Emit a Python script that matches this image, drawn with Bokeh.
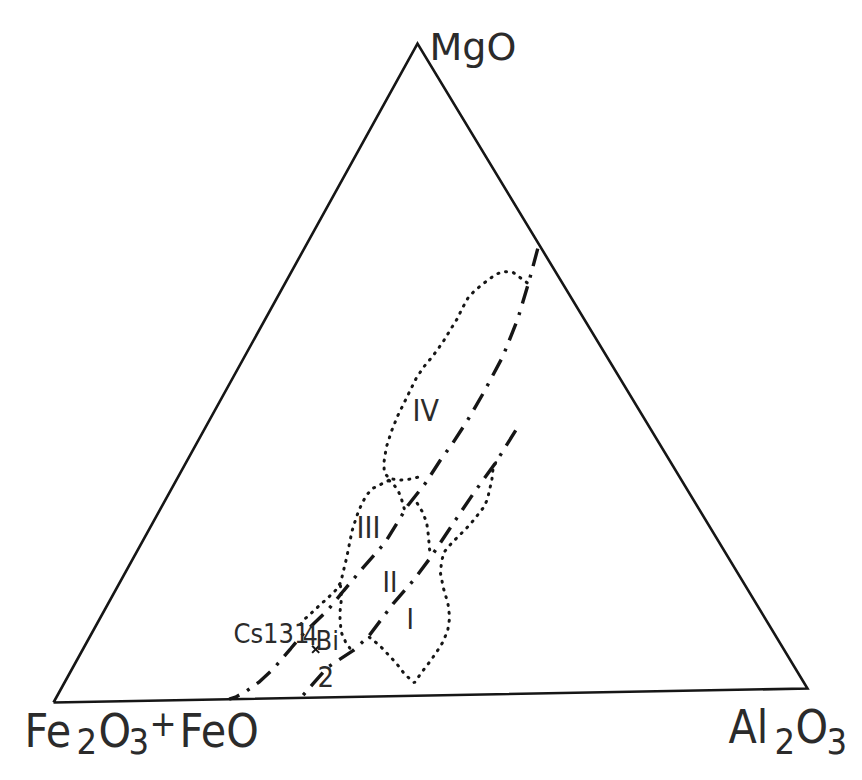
import numpy as np
from bokeh.plotting import figure
from bokeh.models import Range1d
from bokeh.core.properties import value
from bokeh.embed import file_html
from bokeh.resources import INLINE

# ---- data: ternary compositions in % (Al2O3, MgO); Fe2O3+FeO = 100 - Al2O3 - MgO ----
upper_al = [31.3, 32.6, 33.8, 34.6, 34.7, 34.6, 34.3, 33.9, 33.6, 32.9, 32.6, 31.5, 30.6, 29.9, 28.4, 27.8, 27.0, 26.0, 25.0, 24.0, 23.3]
upper_mg = [68.2, 63.0, 57.6, 51.8, 46.2, 42.1, 38.6, 36.0, 32.5, 29.2, 23.6, 19.8, 16.3, 13.3, 9.9, 7.6, 4.6, 2.5, 1.2, 0.3, 0.0]

lower_al = [41.8, 41.5, 40.8, 40.4, 39.8, 39.2, 38.2, 37.3, 36.3, 34.1, 33.4, 32.8]
lower_mg = [40.4, 35.5, 30.8, 27.2, 21.2, 17.7, 14.2, 9.1, 7.1, 4.6, 2.2, 0.0]

field_iv_al = [32.4, 29.8, 28.4, 27.6, 27.0, 26.4, 25.9, 25.6, 25.6, 25.7, 25.6, 25.5, 25.2, 24.8, 24.6, 24.7, 24.8, 24.9, 25.2, 25.7, 26.5, 27.3, 28.4, 29.8, 31.1, 32.1, 32.8]
field_iv_mg = [63.0, 64.6, 64.8, 64.4, 63.6, 62.7, 61.8, 60.8, 59.2, 57.7, 56.1, 54.1, 52.1, 50.5, 48.8, 46.8, 45.0, 43.0, 40.7, 38.2, 35.9, 34.3, 33.4, 33.1, 33.2, 33.5, 33.8]

field_iii_left_al = [28.5, 27.7, 26.9, 26.6, 26.6, 26.7, 26.9, 27.3, 27.9, 28.5, 29.1, 29.6, 29.5, 29.0, 28.4, 27.9, 27.4, 27.3]
field_iii_left_mg = [33.1, 32.5, 31.9, 30.9, 29.8, 28.6, 27.4, 25.5, 23.5, 21.6, 19.4, 17.6, 16.4, 15.2, 14.0, 12.9, 11.9, 10.8]

field_iii_right_al = [28.5, 29.4, 30.5, 31.5, 32.3, 33.1]
field_iii_right_mg = [33.1, 32.5, 31.5, 30.3, 29.2, 28.1]

field_ii_right_al = [34.0, 35.4, 36.7, 37.9, 39.0, 39.8]
field_ii_right_mg = [29.5, 28.1, 26.5, 24.5, 22.5, 21.3]

field_i_al = [41.5, 41.7, 42.3, 42.7, 43.1, 43.2, 43.0, 42.8, 42.4, 41.9, 41.5, 41.2, 41.6, 42.3, 43.8, 45.5, 46.8, 47.5, 47.7, 47.6, 47.4, 47.1, 46.9, 45.0, 43.2, 41.3, 39.5, 37.5]
field_i_mg = [35.5, 34.3, 32.8, 31.3, 30.0, 28.7, 27.8, 26.7, 25.4, 24.2, 23.1, 21.9, 20.4, 18.7, 16.4, 14.1, 11.9, 9.9, 8.1, 6.6, 5.1, 3.6, 2.0, 3.3, 4.9, 6.4, 7.8, 9.1]

field_bi_al = [29.8, 30.9, 31.6, 32.3, 33.4, 34.7, 36.1]
field_bi_mg = [17.1, 15.1, 13.3, 11.8, 9.9, 8.4, 7.1]

sample_al = [31.2]
sample_mg = [7.4]

# ---- layout: corner positions of the triangle on the picture (px) ----
V_FE = (53, 702)
V_AL = (807, 688)
V_MG = (417, 43)


def tern(al, mg):
    al = np.asarray(al, float) / 100.0
    mg = np.asarray(mg, float) / 100.0
    fe = 1.0 - al - mg
    x = fe * V_FE[0] + al * V_AL[0] + mg * V_MG[0]
    y = fe * V_FE[1] + al * V_AL[1] + mg * V_MG[1]
    return x, y


INK = "#161616"
TXT = "#2b2b2b"
NARROW = "DejaVu Sans Condensed, Liberation Sans Narrow, Liberation Sans"
REG = "DejaVu Sans"

p = figure(width=846, height=764, x_range=Range1d(0, 846), y_range=Range1d(764, 0),
           output_backend="svg", toolbar_location=None, title=None,
           x_axis_location=None, y_axis_location=None, min_border=0,
           outline_line_color=None, background_fill_color="white",
           border_fill_color="white")
p.grid.grid_line_color = None

# triangle frame
tx, ty = tern([0, 100, 0, 0], [0, 0, 100, 0])
p.line(tx, ty, line_color=INK, line_width=2.6, line_join="miter")

# dash-dot boundaries
for al, mg in [(upper_al, upper_mg), (lower_al, lower_mg)]:
    x, y = tern(al, mg)
    p.line(x, y, line_color=INK, line_width=3.4, line_dash="18 9 3 9")

# dotted field outlines
for al, mg in [(field_iv_al, field_iv_mg), (field_iii_left_al, field_iii_left_mg),
               (field_iii_right_al, field_iii_right_mg), (field_ii_right_al, field_ii_right_mg),
               (field_i_al, field_i_mg), (field_bi_al, field_bi_mg)]:
    x, y = tern(al, mg)
    p.line(x, y, line_color=INK, line_width=3.0, line_dash="1 7", line_cap="round")

sx, sy = tern(sample_al, sample_mg)
p.scatter(sx, sy, marker="x", size=10, line_color=INK, line_width=2)


def label(x, y, txt, size, font=NARROW):
    p.text(x=[x], y=[y], text=[txt], text_font=value(font),
           text_font_size=value(f"{size}px"), text_color=TXT,
           text_align="left", text_baseline="alphabetic")


# corner labels
label(429, 46, "MgO", 38, REG)
label(24, 730, "Fe", 46)
label(76, 740, "2", 36)
label(98, 730, "O", 46)
label(128, 740, "3", 36)
label(149, 722, "+", 36)
label(179, 730, "FeO", 46)
label(728, 726, "Al", 46)
label(774, 740, "2", 36)
label(795, 726, "O", 46)
label(826, 740, "3", 36)

# field labels
label(412, 410, "IV", 30)
label(356, 527, "III", 30)
label(382, 582, "II", 28)
label(406, 619, "I", 28)
label(233, 633, "Cs131", 27)
label(302, 634, "4", 27)
label(315, 640, "Bi", 27)
label(317, 676, "2", 29)

open("out.html", "w").write(file_html(p, INLINE))
